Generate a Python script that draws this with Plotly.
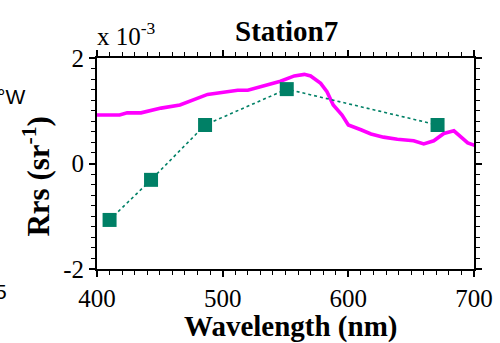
import plotly.graph_objects as go

# Data (Rrs in units of 1e-3 sr^-1)
sat_wl = [410, 443, 486, 551, 671]
sat_rrs = [-1.07, -0.31, 0.73, 1.41, 0.73]

insitu_wl = [400, 418, 424, 435, 451, 466, 488, 498, 512, 520, 535, 546, 557, 565, 570,
             578, 583, 588, 595, 600, 610, 618, 628, 639, 652, 660, 668, 676, 684, 689,
             695, 701]
insitu_rrs = [0.92, 0.92, 0.96, 0.96, 1.05, 1.11, 1.31, 1.35, 1.39, 1.39, 1.49, 1.56, 1.66, 1.69, 1.66,
              1.52, 1.36, 1.11, 0.92, 0.73, 0.64, 0.56, 0.50, 0.46, 0.43, 0.37, 0.43, 0.57, 0.62, 0.51,
              0.39, 0.34]

x_ticks = [400, 500, 600, 700]
y_ticks = [-2, 0, 2]

W, H = 500, 343
L, R, T, B = 96.5, 474, 58, 269

def px(x):
    return (x - L) / (R - L)

def py(y):
    return (B - y) / (B - T)

SERIF = "Liberation Serif"

fig = go.Figure()
fig.add_trace(go.Scatter(x=insitu_wl, y=insitu_rrs, mode="lines",
                         line=dict(color="#ff00ff", width=3.6), showlegend=False))
fig.add_trace(go.Scatter(x=sat_wl, y=sat_rrs, mode="lines+markers",
                         line=dict(color="#008066", width=1.6, dash="dot"),
                         marker=dict(symbol="square", size=14, color="#008066",
                                     line=dict(color="#008066", width=0)),
                         showlegend=False))

axis_common = dict(showgrid=False, zeroline=False, showline=True, linecolor="black",
                   linewidth=2, mirror="allticks", ticks="outside", ticklen=6,
                   tickwidth=1.5, tickcolor="black", automargin=False,
                   tickfont=dict(family=SERIF, size=25, color="black"))

fig.update_xaxes(range=[400, 700], tickvals=x_ticks, ticktext=[str(v) for v in x_ticks],
                 minor=dict(dtick=10, ticklen=4, tickwidth=1.2, tickcolor="black", ticks="outside"),
                 **axis_common)
fig.update_yaxes(range=[-2, 2], tickvals=y_ticks, ticktext=[str(v) for v in y_ticks],
                 minor=dict(dtick=0.2, ticklen=4, tickwidth=1.2, tickcolor="black", ticks="outside"),
                 **axis_common)

ann = []
ann.append(dict(text="<b>Station7</b>", x=px(286), y=py(31), xref="paper", yref="paper",
                showarrow=False, font=dict(family=SERIF, size=29, color="black"),
                xanchor="center", yanchor="middle"))
ann.append(dict(text="x 10<sup>-3</sup>", x=px(94), y=py(52), xref="paper", yref="paper",
                showarrow=False, font=dict(family=SERIF, size=25, color="black"),
                xanchor="left", yanchor="bottom"))
ann.append(dict(text="<b>Wavelength (nm)</b>", x=px(290), y=py(326), xref="paper", yref="paper",
                showarrow=False, font=dict(family=SERIF, size=29, color="black"),
                xanchor="center", yanchor="middle"))
ann.append(dict(text="<b>Wavelength (nm)</b>", x=px(287), y=py(2), xref="paper", yref="paper",
                showarrow=False, font=dict(family=SERIF, size=29, color="#444444"),
                xanchor="center", yanchor="bottom"))
ann.append(dict(text="<b>Rrs (sr<sup>-1</sup>)</b>", x=px(35), y=py(176), xref="paper", yref="paper",
                showarrow=False, textangle=-90, font=dict(family=SERIF, size=31, color="black"),
                xanchor="center", yanchor="middle"))
ann.append(dict(text="°W", x=px(26), y=py(96), xref="paper", yref="paper",
                showarrow=False, font=dict(family="Liberation Sans", size=21, color="black"),
                xanchor="right", yanchor="middle"))
ann.append(dict(text="5", x=px(8), y=py(291), xref="paper", yref="paper",
                showarrow=False, font=dict(family="Liberation Sans", size=21, color="black"),
                xanchor="right", yanchor="middle"))

fig.update_layout(width=W, height=H, margin=dict(l=L, r=W - R, t=T, b=H - B, pad=0, autoexpand=False),
                  paper_bgcolor="white", plot_bgcolor="white", annotations=ann)

fig.write_html("out.html")
